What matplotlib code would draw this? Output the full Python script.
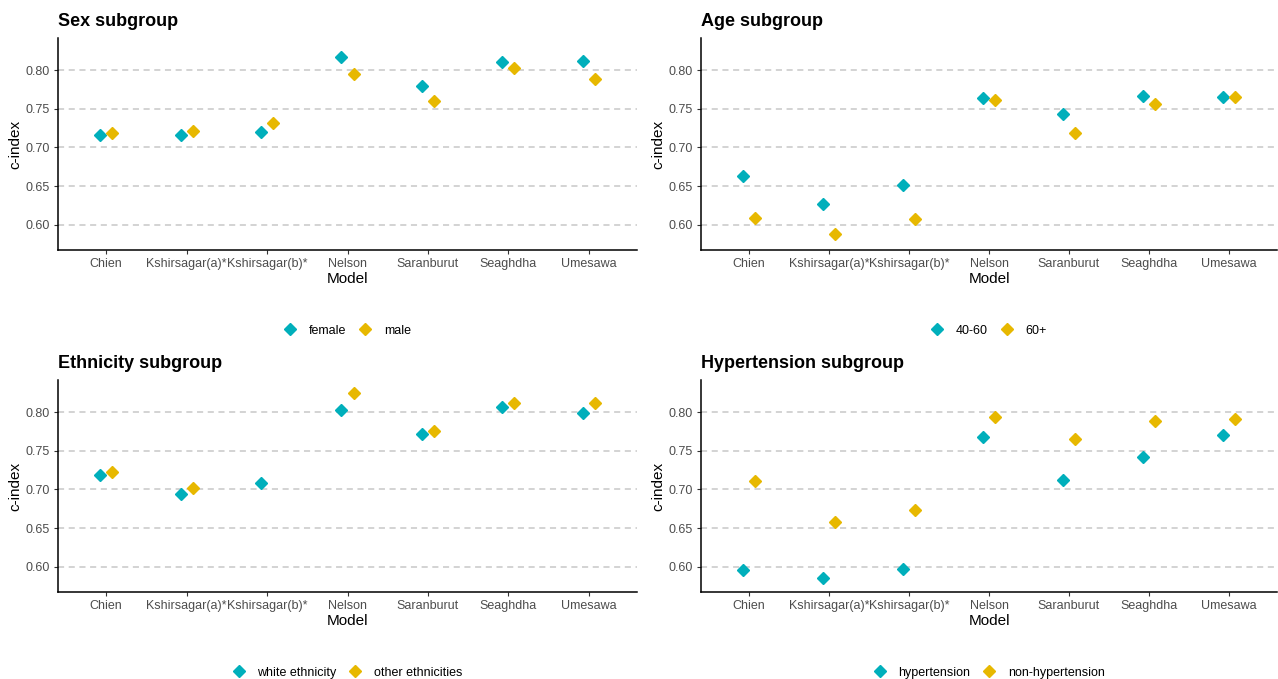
import matplotlib
matplotlib.use("Agg")
import matplotlib.pyplot as plt
from matplotlib.lines import Line2D
import numpy as np

plt.rcParams['font.family'] = ['Liberation Sans', 'DejaVu Sans']

models = ["Chien", "Kshirsagar(a)*", "Kshirsagar(b)*", "Nelson", "Saranburut", "Seaghdha", "Umesawa"]

sex_labels = ["female", "male"]
sex_female = [0.7155, 0.7163, 0.7206, 0.8167, 0.7794, 0.8099, 0.8116]
sex_male = [0.7185, 0.7215, 0.7322, 0.7953, 0.7605, 0.8021, 0.7888]

age_labels = ["40-60", "60+"]
age_40_60 = [0.6635, 0.6266, 0.6519, 0.7644, 0.7433, 0.7661, 0.7648]
age_60p = [0.6094, 0.5884, 0.6082, 0.7614, 0.7185, 0.7562, 0.7648]

eth_labels = ["white ethnicity", "other ethnicities"]
eth_white = [0.7191, 0.6946, 0.7079, 0.8026, 0.7713, 0.8060, 0.7991]
eth_other = [0.7225, 0.7024, np.nan, 0.8240, 0.7752, 0.8116, 0.8120]

hyp_labels = ["hypertension", "non-hypertension"]
hyp_yes = [0.5966, 0.5859, 0.5979, 0.7679, 0.7118, 0.7418, 0.7700]
hyp_no = [0.7105, 0.6582, 0.6741, 0.7931, 0.7653, 0.7889, 0.7906]

yticks = [0.60, 0.65, 0.70, 0.75, 0.80]

C1 = "#00AFBB"
C2 = "#E7B800"

W, H = 1278, 679
fig = plt.figure(figsize=(W / 100, H / 100), dpi=100)

panels = [
    ("Sex subgroup", sex_labels, sex_female, sex_male, (58, 637, 38, 250)),
    ("Age subgroup", age_labels, age_40_60, age_60p, (701, 1277, 38, 250)),
    ("Ethnicity subgroup", eth_labels, eth_white, eth_other, (58, 637, 380, 592)),
    ("Hypertension subgroup", hyp_labels, hyp_yes, hyp_no, (701, 1277, 380, 592)),
]

dodge = 0.075
x = np.arange(len(models))
for title, labels, s1, s2, (l, r, t, b) in panels:
    ax = fig.add_axes([l / W, 1 - b / H, (r - l) / W, (b - t) / H])
    ax.set_xlim(-0.6, len(models) - 0.4)
    ax.set_ylim(0.5677, 0.8413)
    ax.set_yticks(yticks)
    ax.set_yticklabels([f"{v:.2f}" for v in yticks])
    ax.set_xticks(x)
    ax.set_xticklabels(models)
    for v in yticks:
        ax.axhline(v, color="#c8c8c8", lw=1.1, ls=(0, (4, 3)), zorder=0)
    ax.plot(x - dodge, s1, ls="none", marker="D", ms=6.5, color=C1, mec=C1, zorder=3)
    ax.plot(x + dodge, s2, ls="none", marker="D", ms=6.5, color=C2, mec=C2, zorder=3)
    for side in ["top", "right"]:
        ax.spines[side].set_visible(False)
    for side in ["left", "bottom"]:
        ax.spines[side].set_linewidth(1.1)
        ax.spines[side].set_color("black")
    ax.tick_params(axis="both", length=3, width=0.8, color="#333333", labelsize=9, labelcolor="#4d4d4d", pad=3)
    ax.set_xlabel("Model", fontsize=11, labelpad=1)
    ax.set_ylabel("c-index", fontsize=11, labelpad=2)
    ax.set_title(title, loc="left", fontsize=13, fontweight="bold", pad=9)
    handles = [Line2D([], [], ls="none", marker="D", ms=6.5, color=C1),
               Line2D([], [], ls="none", marker="D", ms=6.5, color=C2)]
    ax.legend(handles, labels, loc="upper center", bbox_to_anchor=(0.5, -0.30), ncol=2,
              frameon=False, fontsize=9, handletextpad=1.0, columnspacing=1.0, handlelength=1.0)

fig.savefig("out.png", dpi=100)
